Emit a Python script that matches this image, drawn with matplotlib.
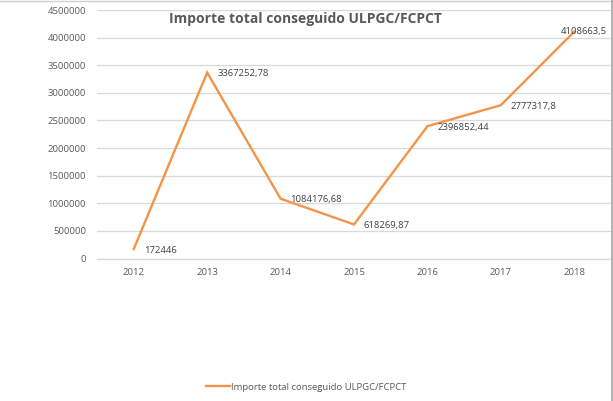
import matplotlib
matplotlib.use("Agg")
import matplotlib.pyplot as plt
from matplotlib.lines import Line2D

years = ["2012", "2013", "2014", "2015", "2016", "2017", "2018"]
importe = [172446, 3367252.78, 1084176.68, 618269.87, 2396852.44, 2777317.8, 4108663.5]
value_labels = ["172446", "3367252,78", "1084176,68", "618269,87", "2396852,44", "2777317,8", "4108663,5"]
y_ticks = [0, 500000, 1000000, 1500000, 2000000, 2500000, 3000000, 3500000, 4000000, 4500000]
series_name = "Importe total conseguido ULPGC/FCPCT"

plt.rcParams["font.family"] = ["Open Sans", "DejaVu Sans"]
text_gray = "#595959"
orange = "#F39449"

fig = plt.figure(figsize=(6.13, 4.01), dpi=100)
ax = fig.add_axes([97 / 613, 1 - 258.6 / 401, (611 - 97) / 613, (258.6 - 10) / 401])

x = list(range(len(years)))
line, = ax.plot(x, importe, color=orange, linewidth=1.7, solid_joinstyle="miter")

# data labels to the right of each point, last one pulled inside
for i, (v, lab) in enumerate(zip(importe, value_labels)):
    if i == len(importe) - 1:
        ax.annotate(lab, (i, v), xytext=(33, 0), textcoords="offset pixels",
                    ha="right", va="center", fontsize=6.8, color="#404040")
    else:
        ax.annotate(lab, (i, v), xytext=(10, -1), textcoords="offset pixels",
                    ha="left", va="center", fontsize=6.8, color="#404040")

ax.set_xlim(-0.5, len(years) - 0.5)
ax.set_ylim(0, 4500000)
ax.set_xticks(x)
ax.set_xticklabels(years)
ax.set_yticks(y_ticks)
ax.set_yticklabels([str(t) for t in y_ticks])
ax.tick_params(axis="both", length=0, labelsize=6.8, labelcolor=text_gray)
ax.tick_params(axis="y", pad=8)
ax.tick_params(axis="x", pad=7)

ax.grid(axis="y", color="#d9d9d9", linewidth=0.9)
ax.set_axisbelow(True)
for side in ["top", "right", "left"]:
    ax.spines[side].set_visible(False)
ax.spines["bottom"].set_color("#d9d9d9")
ax.spines["bottom"].set_linewidth(0.9)

fig.text(305 / 613, 1 - 19.5 / 401, series_name, ha="center", va="center",
         fontsize=10, fontweight="bold", color=text_gray)

fig.legend([line], [series_name], loc="center", bbox_to_anchor=(306 / 613, 1 - 387 / 401),
           frameon=False, fontsize=6.8, labelcolor=text_gray, handlelength=2.6,
           handletextpad=0.1)

# frame edges of the screenshot
fig.add_artist(Line2D([0, 1], [1 - 1 / 401, 1 - 1 / 401], transform=fig.transFigure,
                      color="#d0d0d0", linewidth=1))
fig.add_artist(Line2D([1 - 1.5 / 613, 1 - 1.5 / 613], [0, 1], transform=fig.transFigure,
                      color="#a6a6a6", linewidth=1.2))

fig.savefig("out.png", dpi=100)
